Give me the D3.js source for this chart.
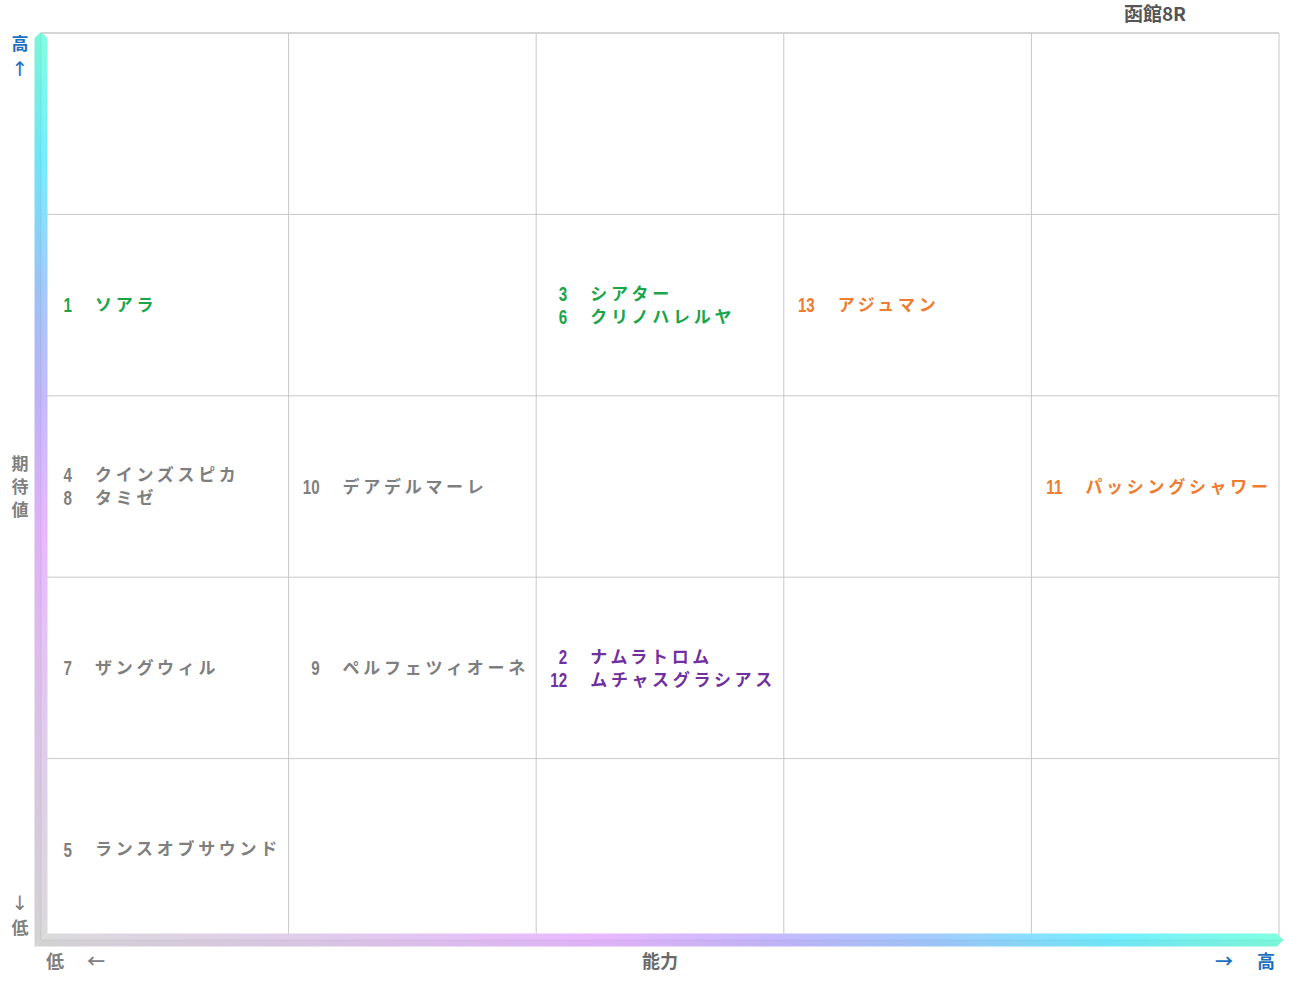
<!DOCTYPE html>
<html><head><meta charset="utf-8">
<script src="https://cdn.jsdelivr.net/npm/d3@7"></script>
<style>
html,body{margin:0;padding:0;background:#fff;}
text{font-family:"Noto Sans CJK JP","Noto Sans",sans-serif;font-weight:700;}
.num{font-family:"Liberation Sans","DejaVu Sans",sans-serif;font-weight:700;}
.arr{font-family:"DejaVu Sans",sans-serif;font-weight:400;}
</style></head>
<body>
<script>
const title = "函館8R";
const abilityLevels = [1, 2, 3, 4, 5];      // 能力 (columns, low→high)
const expectLevels = [1, 2, 3, 4, 5];       // 期待値 (rows, low→high)
const horseNumbers = [1, 3, 6, 13, 4, 8, 10, 11, 7, 9, 2, 12, 5];
const horseNames = ["ソアラ", "シアター", "クリノハレルヤ", "アジュマン", "クインズスピカ", "タミゼ",
  "デアデルマーレ", "パッシングシャワー", "ザングウィル", "ペルフェツィオーネ", "ナムラトロム",
  "ムチャスグラシアス", "ランスオブサウンド"];
const horseAbility = [1, 3, 3, 4, 1, 1, 2, 5, 1, 2, 3, 3, 1];
const horseExpect = [4, 4, 4, 4, 3, 3, 3, 3, 2, 2, 2, 2, 1];
const horseGroup = ["green", "green", "green", "orange", "gray", "gray", "gray", "orange", "gray", "gray", "purple", "purple", "gray"];
const groupColors = {green: "#1aa54a", orange: "#ee7d31", gray: "#7f7f7f", purple: "#7030a0"};

const W = 1291, H = 983;
const svg = d3.select("body").append("svg").attr("width", W).attr("height", H);
const x = d3.scaleBand().domain(abilityLevels).range([41, 1279]).padding(0);
const y = d3.scaleBand().domain(expectLevels).range([940, 33]).padding(0);

// grid
const g = svg.append("g");
const xb = abilityLevels.map(d => x(d)).concat([x.range()[1]]);
const yb = expectLevels.map(d => y(d)).concat([y.range()[1]]);
g.selectAll("line.v").data(xb).join("line").attr("x1", d => d).attr("x2", d => d)
  .attr("y1", 33).attr("y2", 940).attr("stroke", "#c8c8c8").attr("stroke-width", 1);
g.selectAll("line.h").data(yb).join("line").attr("y1", d => d).attr("y2", d => d)
  .attr("x1", 41).attr("x2", 1279).attr("stroke", "#c8c8c8").attr("stroke-width", 1);

// gradients
const defs = svg.append("defs");
const stops = [[0, "#dadada"], [0.22, "#e0ccec"], [0.45, "#e8b8ff"], [0.6, "#c4baff"], [0.72, "#a2cbff"], [0.86, "#74eeff"], [1, "#80ffe0"]];
const gv = defs.append("linearGradient").attr("id", "gv").attr("gradientUnits", "userSpaceOnUse")
  .attr("x1", 0).attr("y1", 940).attr("x2", 0).attr("y2", 32);
gv.selectAll("stop").data(stops).join("stop").attr("offset", d => d[0]).attr("stop-color", d => d[1]);
const gh = defs.append("linearGradient").attr("id", "gh").attr("gradientUnits", "userSpaceOnUse")
  .attr("x1", 41).attr("y1", 0).attr("x2", 1283).attr("y2", 0);
gh.selectAll("stop").data(stops).join("stop").attr("offset", d => d[0]).attr("stop-color", d => d[1]);

// axis arrows (L shape with mitered corner)
const cx = 41, cy = 940, hw = 6.5;
svg.append("path").attr("fill", "url(#gv)")
  .attr("d", `M${cx - hw},${cy + hw} L${cx - hw},38 L${cx},32 L${cx + hw},38 L${cx + hw},${cy - hw} Z`);
svg.append("path").attr("fill", "url(#gh)")
  .attr("d", `M${cx - hw},${cy + hw} L${cx + hw},${cy - hw} L1277,${cy - hw} L1283.5,${cy} L1277,${cy + hw} Z`);
// shading halves
svg.append("path").attr("fill", "#000").attr("opacity", 0.035)
  .attr("d", `M${cx - hw},${cy + hw} L${cx - hw},38 L${cx},32 L${cx},${cy} Z`);
svg.append("path").attr("fill", "#000").attr("opacity", 0.035)
  .attr("d", `M${cx - hw},${cy + hw} L1277,${cy + hw} L1283.5,${cy} L${cx},${cy} Z`);
svg.append("path").attr("fill", "none").attr("stroke", "#000").attr("stroke-opacity", 0.06).attr("stroke-width", 1)
  .attr("d", `M${cx},33 L${cx},${cy} L1283,${cy}`);

// horse labels grouped by cell
const horses = horseNumbers.map((n, i) => ({n, name: horseNames[i], a: horseAbility[i], e: horseExpect[i], c: groupColors[horseGroup[i]]}));
const cells = d3.groups(horses, d => d.a + "-" + d.e);
const lineH = 23;
cells.forEach(([key, list]) => {
  const a = list[0].a, e = list[0].e;
  const cxp = x(a), cyc = y(e) + y.bandwidth() / 2;
  const y0 = cyc - (list.length - 1) * lineH / 2;
  list.forEach((h, i) => {
    const yy = y0 + i * lineH;
    svg.append("text").attr("class", "num")
      .attr("transform", `translate(${cxp + 31},${yy}) scale(0.76,1)`).attr("dy", "0.36em")
      .attr("text-anchor", "end").attr("font-size", 20).attr("fill", h.c).text(h.n);
    svg.append("text").attr("x", cxp + 54).attr("y", yy).attr("dy", "0.36em")
      .attr("font-size", 17).attr("letter-spacing", "3.7px").attr("fill", h.c).text(h.name);
  });
});

// axis labels
const blue = "#1b6fc0", gray = "#808080";
svg.append("text").attr("x", 1155).attr("y", 14).attr("dy", "0.36em").attr("text-anchor", "middle")
  .attr("font-size", 19).attr("fill", "#555").text(title);
svg.append("text").attr("x", 20).attr("y", 44).attr("dy", "0.36em").attr("text-anchor", "middle").attr("font-size", 17).attr("fill", blue).text("高");
svg.append("text").attr("class", "arr").attr("x", 20).attr("y", 69).attr("dy", "0.36em").attr("text-anchor", "middle").attr("font-size", 20).attr("fill", blue).text("↑");
["期", "待", "値"].forEach((c, i) => svg.append("text").attr("x", 20).attr("y", 464 + i * 23).attr("dy", "0.36em")
  .attr("text-anchor", "middle").attr("font-size", 17).attr("fill", gray).text(c));
svg.append("text").attr("class", "arr").attr("x", 20).attr("y", 903).attr("dy", "0.36em").attr("text-anchor", "middle").attr("font-size", 20).attr("fill", gray).text("↓");
svg.append("text").attr("x", 20).attr("y", 928).attr("dy", "0.36em").attr("text-anchor", "middle").attr("font-size", 17).attr("fill", gray).text("低");
svg.append("text").attr("x", 55).attr("y", 962).attr("dy", "0.36em").attr("text-anchor", "middle").attr("font-size", 18).attr("fill", gray).text("低");
svg.append("text").attr("x", 96).attr("y", 962).attr("dy", "0.36em").attr("text-anchor", "middle").attr("font-size", 18).attr("fill", gray).text("←");
svg.append("text").attr("x", 660).attr("y", 962).attr("dy", "0.36em").attr("text-anchor", "middle").attr("font-size", 18).attr("fill", "#6a6a6a").text("能力");
svg.append("text").attr("x", 1224).attr("y", 962).attr("dy", "0.36em").attr("text-anchor", "middle").attr("font-size", 18).attr("fill", blue).text("→");
svg.append("text").attr("x", 1266).attr("y", 962).attr("dy", "0.36em").attr("text-anchor", "middle").attr("font-size", 18).attr("fill", blue).text("高");
</script>
</body></html>
